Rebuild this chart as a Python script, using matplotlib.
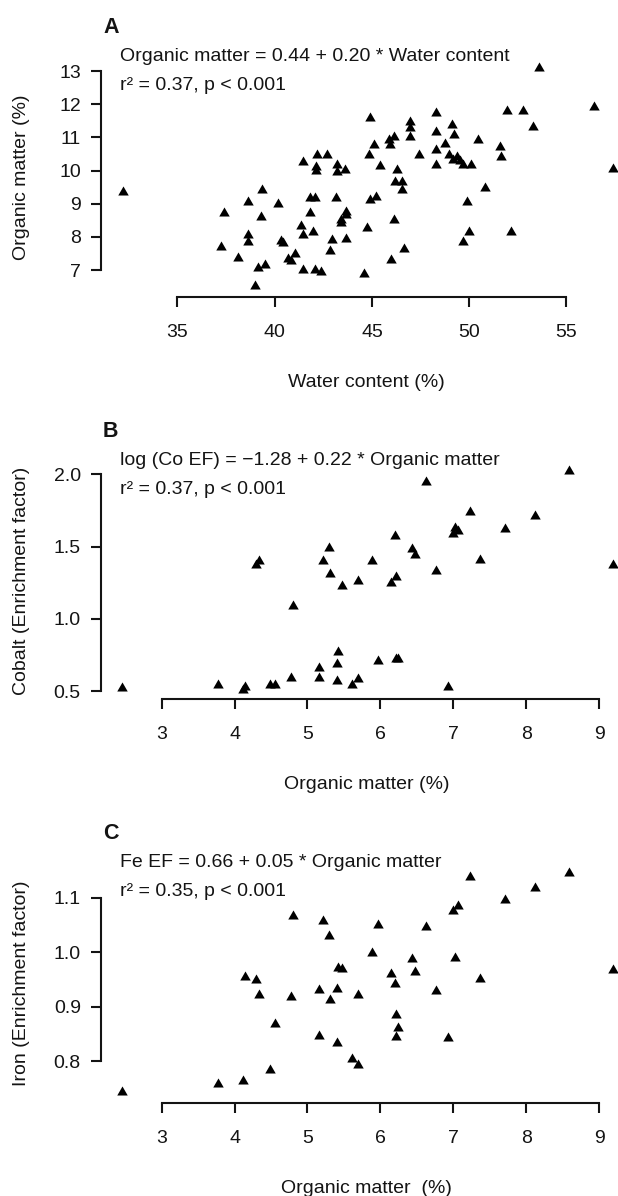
import matplotlib
matplotlib.use('Agg')
import matplotlib.pyplot as plt
from matplotlib.ticker import FormatStrFormatter

plt.rcParams['font.family'] = ['Liberation Sans', 'DejaVu Sans']

# ---------------- data ----------------
# Panel A: water content (%) vs organic matter (%)
water_A = [53.6, 56.44, 57.39, 32.18, 44.89, 48.27, 51.92, 52.77, 53.3, 46.96,
           46.96, 46.96, 48.27, 49.14, 49.22, 50.46, 45.9, 46.14, 45.13, 44.85,
           45.94, 48.78, 48.27, 51.56, 51.62, 47.42, 48.98, 49.39, 49.18, 49.55,
           50.1, 49.69, 48.27, 45.4, 41.44, 42.19, 42.7, 42.1, 42.1, 43.21,
           43.21, 43.61, 46.31, 46.19, 46.55, 46.55, 50.8, 39.36,
           38.65, 40.17, 41.79, 42.09, 43.17, 44.89, 45.19, 49.89, 37.39, 39.32,
           41.79, 43.67, 43.67, 43.41, 43.41, 46.14, 38.65, 38.61, 41.34, 41.44,
           41.99, 44.73, 50.0, 52.16, 40.31, 40.43, 42.96, 43.65, 49.69, 37.23,
           38.1, 41.04, 42.86, 46.65, 40.67, 40.83, 45.98, 39.52, 39.15, 41.48,
           42.09, 42.4, 44.58, 39.01]
om_A = [13.1, 11.92, 10.05, 9.36, 11.59, 11.72, 11.79, 11.79, 11.32, 11.47,
        11.27, 11.02, 11.17, 11.37, 11.07, 10.92, 10.92, 11.0, 10.77, 10.47,
        10.77, 10.8, 10.62, 10.72, 10.4, 10.47, 10.47, 10.42, 10.32, 10.3,
        10.17, 10.17, 10.17, 10.14, 10.27, 10.47, 10.47, 10.12, 9.99, 10.17,
        9.96, 10.02, 10.02, 9.66, 9.66, 9.41, 9.46, 9.41,
        9.06, 8.98, 9.16, 9.16, 9.16, 9.11, 9.21, 9.06, 8.71, 8.61,
        8.71, 8.76, 8.66, 8.51, 8.41, 8.51, 8.06, 7.85, 8.33, 8.06,
        8.16, 8.26, 8.16, 8.16, 7.87, 7.8, 7.9, 7.92, 7.85, 7.7,
        7.37, 7.48, 7.57, 7.62, 7.33, 7.26, 7.31, 7.15, 7.05, 7.0,
        6.99, 6.95, 6.88, 6.52]

# Panels B and C: organic matter (%) vs Co and Fe enrichment factors
om_BC = [8.59, 6.62, 7.23, 8.12, 7.03, 7.06, 7.0, 7.71, 6.2, 5.3,
         6.43, 6.48, 4.33, 4.3, 5.21, 5.89, 7.37, 9.19, 5.31, 6.76,
         5.69, 6.21, 6.14, 5.48, 4.8, 5.42, 5.41, 5.16, 5.97, 6.21,
         6.24, 4.77, 5.16, 5.41, 5.69, 5.61, 3.77, 4.14, 4.11, 4.49,
         4.56, 6.93, 2.46]
co_EF = [2.02, 1.95, 1.74, 1.71, 1.63, 1.61, 1.59, 1.62, 1.57, 1.49,
         1.48, 1.44, 1.40, 1.37, 1.40, 1.40, 1.41, 1.37, 1.31, 1.33,
         1.26, 1.29, 1.25, 1.23, 1.09, 0.77, 0.69, 0.66, 0.71, 0.72,
         0.72, 0.59, 0.59, 0.57, 0.58, 0.54, 0.545, 0.53, 0.51, 0.545,
         0.54, 0.53, 0.52]
fe_EF = [1.146, 1.046, 1.139, 1.118, 0.989, 1.084, 1.075, 1.096, 0.942, 1.03,
         0.987, 0.964, 0.921, 0.949, 1.058, 0.999, 0.95, 0.967, 0.912, 0.928,
         0.921, 0.885, 0.96, 0.969, 1.067, 0.971, 0.933, 0.931, 1.049, 0.845,
         0.86, 0.917, 0.846, 0.834, 0.792, 0.803, 0.758, 0.955, 0.763, 0.784,
         0.868, 0.842, 0.743]

xticks_A = [35, 40, 45, 50, 55]
yticks_A = [7, 8, 9, 10, 11, 12, 13]
xticks_BC = [3, 4, 5, 6, 7, 8, 9]
yticks_B = [0.5, 1.0, 1.5, 2.0]
yticks_C = [0.8, 0.9, 1.0, 1.1]

# ---------------- figure ----------------
W, H = 618, 1196
fig = plt.figure(figsize=(W / 100, H / 100), dpi=100)
INK = '#141414'
FS = 14

tri = [(0, 1.555), (1.347, -0.778), (-1.347, -0.778)]

panels = [
    dict(x=water_A, y=om_A, top=58.4, bottom=297.0, xlim=(31.07, 58.37), ylim=(6.186, 13.38),
         xt=xticks_A, yt=yticks_A, yfmt='%d', letter='A',
         eq1='Organic matter = 0.44 + 0.20 * Water content', eq2='r\u00b2 = 0.37, p < 0.001',
         xlabel='Water content (%)', ylabel='Organic matter (%)'),
    dict(x=om_BC, y=co_EF, top=462.0, bottom=699.3, xlim=(2.169, 9.451), ylim=(0.4426, 2.085),
         xt=xticks_BC, yt=yticks_B, yfmt='%.1f', letter='B',
         eq1='log (Co EF) = \u22121.28 + 0.22 * Organic matter', eq2='r\u00b2 = 0.37, p < 0.001',
         xlabel='Organic matter (%)', ylabel='Cobalt (Enrichment factor)'),
    dict(x=om_BC, y=fe_EF, top=864.0, bottom=1103.3, xlim=(2.169, 9.451), ylim=(0.7223, 1.162),
         xt=xticks_BC, yt=yticks_C, yfmt='%.1f', letter='C',
         eq1='Fe EF = 0.66 + 0.05 * Organic matter', eq2='r\u00b2 = 0.35, p < 0.001',
         xlabel='Organic matter  (%)', ylabel='Iron (Enrichment factor)'),
]

LEFT, RIGHT = 101.0, 632.0


def fx(px):
    return px / W


def fy(py):
    return 1 - py / H


for p in panels:
    ax = fig.add_axes([fx(LEFT), fy(p['bottom']), (RIGHT - LEFT) / W, (p['bottom'] - p['top']) / H])
    ax.plot(p['x'], p['y'], linestyle='none', marker=tri, markersize=8.7,
            color='black', markeredgewidth=0, clip_on=False)
    ax.set_xlim(*p['xlim'])
    ax.set_ylim(*p['ylim'])
    ax.set_xticks(p['xt'])
    ax.set_yticks(p['yt'])
    ax.yaxis.set_major_formatter(FormatStrFormatter(p['yfmt']))
    for s in ('top', 'right'):
        ax.spines[s].set_visible(False)
    ax.spines['left'].set_bounds(p['yt'][0], p['yt'][-1])
    ax.spines['bottom'].set_bounds(p['xt'][0], p['xt'][-1])
    for s in ('left', 'bottom'):
        ax.spines[s].set_linewidth(1.5)
        ax.spines[s].set_color(INK)
    ax.tick_params(axis='both', direction='out', length=7.5, width=1.5, color=INK,
                   labelsize=FS, labelcolor=INK)
    ax.tick_params(axis='x', pad=12)
    ax.tick_params(axis='y', pad=7)
    ax.patch.set_alpha(0)

    # panel letter and equations
    fig.text(fx(103), fy(p['top'] - 25), p['letter'], fontsize=15.5, fontweight='bold',
             color=INK, ha='left', va='baseline')
    fig.text(fx(119.5), fy(p['top'] + 3), p['eq1'], fontsize=FS, color=INK,
             ha='left', va='baseline')
    fig.text(fx(119.5), fy(p['top'] + 32), p['eq2'], fontsize=FS, color=INK,
             ha='left', va='baseline')
    # axis labels
    fig.text(fx((LEFT + RIGHT) / 2), fy(p['bottom'] + 90), p['xlabel'], fontsize=FS,
             color=INK, ha='center', va='baseline')
    fig.text(fx(21.7), fy((p['top'] + p['bottom']) / 2), p['ylabel'], fontsize=FS,
             color=INK, ha='center', va='center', rotation=90)

fig.savefig('out.png', dpi=100)
